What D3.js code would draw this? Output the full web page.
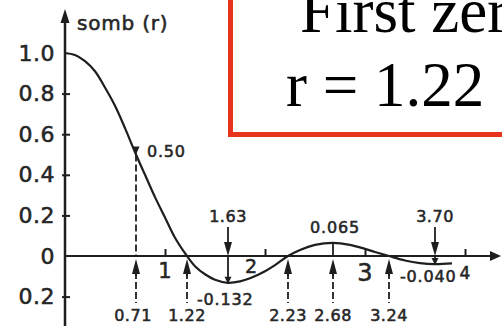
<!DOCTYPE html>
<html>
<head>
<meta charset="utf-8">
<script src="https://cdn.jsdelivr.net/npm/d3@7"></script>
<style>
  html, body { margin: 0; padding: 0; background: #fff; }
  svg { display: block; }
  .lbl { font-family: "DejaVu Sans", sans-serif; fill: #262626; stroke: #262626; stroke-width: 0.55px; }
</style>
</head>
<body>
<svg id="chart" width="502" height="326"></svg>
<script>
// somb(r) profile, sampled along r
const curveR   = [0, 0.1, 0.2, 0.3, 0.4, 0.5, 0.6, 0.71, 0.8, 0.9, 1.0, 1.1, 1.22, 1.3, 1.4, 1.5, 1.63, 1.75, 1.85, 2.0, 2.1, 2.23, 2.35, 2.5, 2.68, 2.85, 3.0, 3.1, 3.24, 3.4, 3.55, 3.70, 3.87];
const curveVal = [1.0, 0.99, 0.96, 0.91, 0.83, 0.74, 0.63, 0.50, 0.40, 0.29, 0.19, 0.09, 0, -0.05, -0.09, -0.117, -0.132, -0.125, -0.11, -0.075, -0.045, 0, 0.03, 0.055, 0.065, 0.055, 0.035, 0.02, 0, -0.022, -0.035, -0.040, -0.036];

// axis ticks
const yTicks      = [-0.2, 0, 0.2, 0.4, 0.6, 0.8, 1.0];
const yTickLabels = ["0.2", "0", "0.2", "0.4", "0.6", "0.8", "1.0"];
const xTicks      = [1, 2, 3, 4];
const xTickLabels = ["1", "2", "3", "4"];

// r positions marked with arrows from below the axis
const belowR      = [0.71, 1.22, 2.23, 2.68, 3.24];
const belowLabels = ["0.71", "1.22", "2.23", "2.68", "3.24"];
// r positions marked with arrows from above the axis
const aboveR      = [1.63, 3.70];
const aboveLabels = ["1.63", "3.70"];
// extrema / half-value points with their values
const valueR      = [0.71, 1.63, 2.68, 3.70];
const valueVal    = [0.50, -0.132, 0.065, -0.040];
const valueLabels = ["0.50", "-0.132", "0.065", "-0.040"];

const yTitle = "somb (r)";
const boxLines = ["First zero", "r = 1.22"];

const svg = d3.select("#chart");
svg.append("rect").attr("width", 502).attr("height", 326).attr("fill", "#fff");

const x = d3.scaleLinear().domain([0, 4.36]).range([65, 501]);
const y = d3.scaleLinear().domain([-0.2, 1.0]).range([296.6, 53]);
const ink = "#1e1e1e";

function arrowHead(g, tx, ty, dir, len, half) {
  // dir: "up" | "down" | "right"
  let pts;
  if (dir === "up") pts = [[tx, ty], [tx - half, ty + len], [tx + half, ty + len]];
  else if (dir === "down") pts = [[tx, ty], [tx - half, ty - len], [tx + half, ty - len]];
  else pts = [[tx, ty], [tx - len, ty - half], [tx - len, ty + half]];
  g.append("path").attr("d", "M" + pts.join("L") + "Z").attr("fill", ink);
}

// ---- axes ----
const axes = svg.append("g");
const x0 = x(0), y0 = y(0);
axes.append("line").attr("x1", x0).attr("x2", x0).attr("y1", 326).attr("y2", 20)
  .attr("stroke", ink).attr("stroke-width", 2.5);
arrowHead(axes, x0, 9, "up", 14, 4.5);
axes.append("line").attr("x1", x0).attr("x2", 492).attr("y1", y0).attr("y2", y0)
  .attr("stroke", ink).attr("stroke-width", 2);
arrowHead(axes, 501, y0, "right", 11, 5);

const yAxis = d3.axisLeft(y)
  .tickValues(yTicks)
  .tickFormat((d, i) => yTickLabels[i])
  .tickSizeInner(-5).tickSizeOuter(0).tickPadding(10);
const gy = svg.append("g").attr("transform", `translate(${x0},0)`).call(yAxis);
gy.select(".domain").remove();
gy.selectAll(".tick line")
  .attr("x1", -3)
  .attr("stroke", ink).attr("stroke-width", 2)
  .attr("display", d => (d === 0 || d === 1) ? "none" : null);
gy.selectAll(".tick text")
  .attr("class", "lbl")
  .attr("font-size", 22)
  .attr("letter-spacing", 0.5);

svg.append("text").attr("class", "lbl")
  .attr("x", 77).attr("y", 30)
  .attr("font-size", 20).attr("letter-spacing", 0.8)
  .text(yTitle);

const xAxis = d3.axisBottom(x).tickValues(xTicks).tickFormat("").tickSizeInner(-7).tickSizeOuter(0);
const gx = svg.append("g").attr("transform", `translate(0,${y0})`).call(xAxis);
gx.select(".domain").remove();
gx.selectAll(".tick line").attr("stroke", ink).attr("stroke-width", 2);

const xLabelShift = { "2": -14 };
const xLabelBase  = { "1": 278, "2": 273, "3": 281, "4": 279 };
const xLabelSize  = { "1": 21, "2": 19, "3": 24, "4": 17 };
svg.append("g").selectAll("text").data(xTicks).join("text")
  .attr("class", "lbl")
  .attr("x", (d, i) => x(d) + (xLabelShift[xTickLabels[i]] || 0))
  .attr("y", (d, i) => xLabelBase[xTickLabels[i]])
  .attr("text-anchor", "middle")
  .attr("font-size", (d, i) => xLabelSize[xTickLabels[i]])
  .text((d, i) => xTickLabels[i]);

// ---- curve ----
const pts = curveR.map((r, i) => [r, curveVal[i]]);
svg.append("path")
  .datum(pts)
  .attr("d", d3.line().x(d => x(d[0])).y(d => y(d[1])).curve(d3.curveCatmullRom.alpha(0.5)))
  .attr("fill", "none").attr("stroke", ink).attr("stroke-width", 2.2);

// ---- annotation arrows ----
const ann = svg.append("g");
const dash = "7,3";

// from below: dashed stem, arrow pointing up to the axis
belowR.forEach((r, i) => {
  const cx = x(r);
  ann.append("line").attr("x1", cx).attr("x2", cx).attr("y1", y0 + 16).attr("y2", 303)
    .attr("stroke", ink).attr("stroke-width", 1.8).attr("stroke-dasharray", dash);
  ann.append("line").attr("x1", cx).attr("x2", cx).attr("y1", y0 + 10).attr("y2", y0 + 20)
    .attr("stroke", ink).attr("stroke-width", 1.8);
  arrowHead(ann, cx, y0 + 3, "up", 15, 4);
  ann.append("text").attr("class", "lbl")
    .attr("x", cx - (i === 0 ? 3 : 0)).attr("y", 321)
    .attr("text-anchor", "middle").attr("font-size", 16).attr("letter-spacing", 0.5)
    .text(belowLabels[i]);
});

// from above: label, arrow pointing down onto the axis
aboveR.forEach((r, i) => {
  const cx = x(r);
  ann.append("line").attr("x1", cx).attr("x2", cx).attr("y1", 227).attr("y2", y0 - 8)
    .attr("stroke", ink).attr("stroke-width", 1.8);
  arrowHead(ann, cx, y0, "down", 14, 4);
  ann.append("text").attr("class", "lbl")
    .attr("x", cx).attr("y", 222)
    .attr("text-anchor", "middle").attr("font-size", 16).attr("letter-spacing", 0.5)
    .text(aboveLabels[i]);
});

// value points on the curve
valueR.forEach((r, i) => {
  const cx = x(r), cy = y(valueVal[i]);
  const isHalf = i === 0;
  ann.append("line").attr("x1", cx).attr("x2", cx).attr("y1", cy).attr("y2", y0)
    .attr("stroke", ink).attr("stroke-width", 1.8)
    .attr("stroke-dasharray", isHalf ? dash : null);
  if (valueVal[i] > 0.3) arrowHead(ann, cx, cy, "down", 8, 3.5);
  else if (valueVal[i] < 0) arrowHead(ann, cx, cy + 1, "down", 7, 3.5);
  let lx, ly, anchor;
  if (i === 0)      { lx = cx + 11; ly = 157; anchor = "start"; }
  else if (i === 1) { lx = 197;     ly = 305; anchor = "start"; }
  else if (i === 2) { lx = cx + 2;  ly = 233; anchor = "middle"; }
  else              { lx = 400;     ly = 282; anchor = "start"; }
  ann.append("text").attr("class", "lbl")
    .attr("x", lx).attr("y", ly)
    .attr("text-anchor", anchor).attr("font-size", 16).attr("letter-spacing", 0.8)
    .text(valueLabels[i]);
});

// ---- callout box ----
const box = svg.append("g");
box.append("rect")
  .attr("x", 230.5).attr("y", -10).attr("width", 300).attr("height", 144.5)
  .attr("fill", "#fff").attr("stroke", "#e8341c").attr("stroke-width", 5);
box.selectAll("text").data(boxLines).join("text")
  .attr("x", (d, i) => i === 0 ? 300 : 286)
  .attr("y", (d, i) => i === 0 ? 32 : 106)
  .attr("font-family", "'Liberation Serif', 'Times New Roman', serif")
  .attr("font-size", 63)
  .attr("fill", "#000")
  .text(d => d);
</script>
</body>
</html>
